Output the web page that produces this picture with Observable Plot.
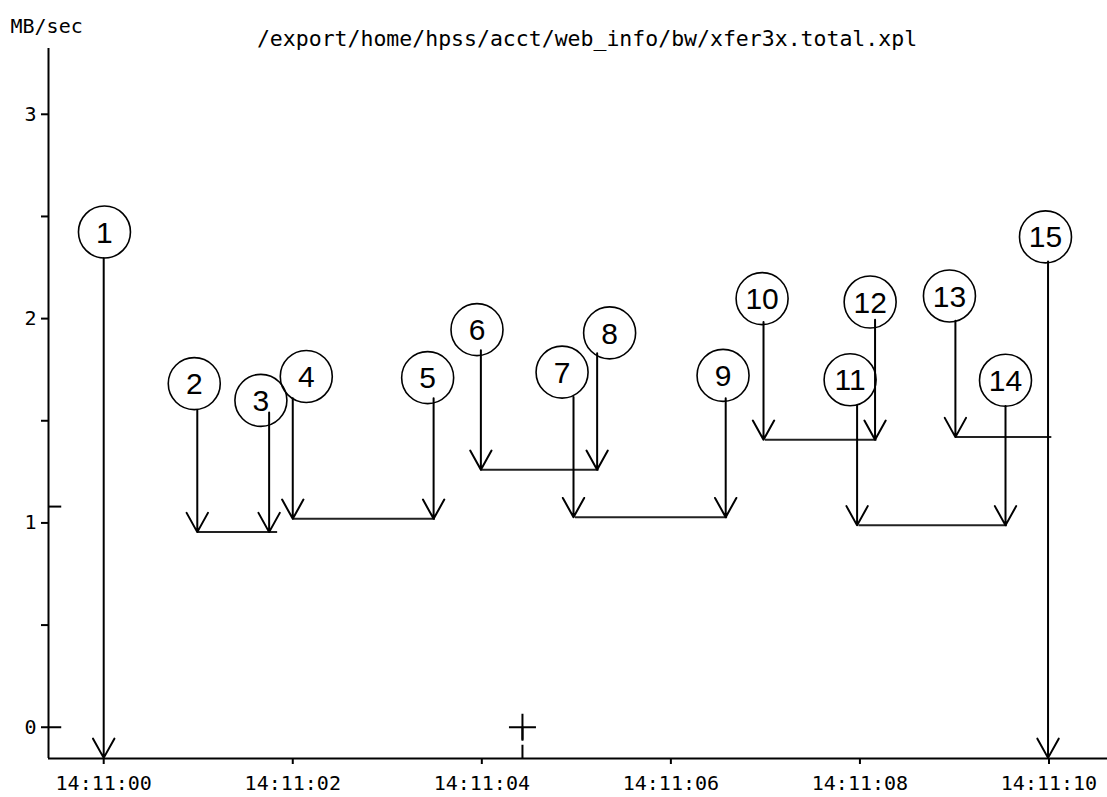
<!DOCTYPE html>
<html>
<head>
<meta charset="utf-8">
<script src="https://cdn.jsdelivr.net/npm/d3@7"></script>
<script src="https://cdn.jsdelivr.net/npm/@observablehq/plot@0.6"></script>
<style>
  html, body { margin: 0; padding: 0; background: #fff; }
  svg { display: block; }
</style>
</head>
<body>
<div id="chart"></div>
<script>
// ---- data (seconds after 14:11:00, values in MB/sec) ----
const titleText = "/export/home/hpss/acct/web_info/bw/xfer3x.total.xpl";
const yUnit = "MB/sec";
const labels = ["1","2","3","4","5","6","7","8","9","10","11","12","13","14","15"];
const arrowTime = [0.00, 0.99, 1.75, 2.00, 3.49, 3.99, 4.97, 5.22, 6.58, 6.98, 7.97, 8.16, 9.01, 9.54, 9.99];
const arrowTop  = [2.295, 1.551, 1.541, 1.61, 1.61, 1.845, 1.616, 1.83, 1.61, 1.983, 1.575, 1.995, 1.99, 1.572, 2.28];
const arrowTip  = [-0.15, 0.955, 0.955, 1.02, 1.02, 1.26, 1.028, 1.26, 1.028, 1.407, 0.988, 1.407, 1.42, 0.988, -0.15];
const circleTime  = [0.008, 0.958, 1.663, 2.143, 3.427, 3.949, 4.849, 5.352, 6.552, 6.965, 7.896, 8.108, 8.947, 9.54, 9.963];
const circleValue = [2.424, 1.682, 1.60, 1.717, 1.711, 1.946, 1.738, 1.93, 1.722, 2.098, 1.701, 2.081, 2.111, 1.698, 2.40];
const segStart = [0.99, 2.00, 3.99, 4.99, 7.00, 7.99, 9.01];
const segEnd   = [1.84, 3.51, 5.24, 6.60, 8.18, 9.56, 10.03];
const segValue = [0.955, 1.02, 1.26, 1.028, 1.407, 0.988, 1.42];
const xTickSeconds = [0, 2, 4, 6, 8, 10];
const yTicks = [0, 0.5, 1, 1.5, 2, 2.5, 3];
const yMarkers = [1.08, 0];
const crossTime = [4.43];
const crossValue = [0];
const xDomainSec = [-0.584, 10.619];
const yDomain = [-0.153, 3.322];

// ---- build ----
const base = Date.UTC(2000, 0, 1, 14, 11, 0);
const toDate = s => new Date(base + s * 1000);
const arrows = labels.map((l, i) => ({t: toDate(arrowTime[i]), top: arrowTop[i], tip: arrowTip[i]}));
const circles = labels.map((l, i) => ({label: l, t: toDate(circleTime[i]), v: circleValue[i]}));
const segs = segStart.map((s, i) => ({t1: toDate(s), t2: toDate(segEnd[i]), v: segValue[i]}));
const cross = crossTime.map((t, i) => ({t: toDate(t), v: crossValue[i]}));
const xmin = toDate(xDomainSec[0]);
const markerEnd = toDate(xDomainSec[0] + 0.14);

const plusSymbol = {
  draw(context, size) {
    const r = Math.sqrt(size / Math.PI);
    context.moveTo(-r, 0); context.lineTo(r, 0);
    context.moveTo(0, -r); context.lineTo(0, r);
  }
};

const mono = "DejaVu Sans Mono, monospace";

const chart = Plot.plot({
  width: 1107,
  height: 797,
  marginLeft: 48,
  marginRight: 0,
  marginTop: 48,
  marginBottom: 39,
  style: {background: "#fff", color: "#000", fontFamily: mono},
  x: {type: "utc", domain: [xmin, toDate(xDomainSec[1])], axis: null},
  y: {domain: yDomain, axis: null},
  marks: [
    Plot.axisX({
      ticks: xTickSeconds.map(toDate),
      tickFormat: d3.utcFormat("%H:%M:%S"),
      tickSize: 6, tickPadding: 11, fontSize: 20, label: null, strokeWidth: 2
    }),
    Plot.axisY({
      ticks: yTicks,
      tickFormat: d => (d % 1 === 0 ? String(d) : ""),
      tickSize: 7, tickPadding: 5, fontSize: 20, label: null, strokeWidth: 2
    }),
    Plot.ruleY(yMarkers, {y: d => d, x1: () => xmin, x2: () => markerEnd, stroke: "#000", strokeWidth: 2}),
    Plot.ruleX([xmin], {stroke: "#000", strokeWidth: 2}),
    Plot.ruleY([yDomain[0]], {stroke: "#000", strokeWidth: 2}),
    Plot.ruleY(segs, {y: "v", x1: "t1", x2: "t2", stroke: "#222", strokeWidth: 2}),
    Plot.arrow(arrows, {x1: "t", y1: "top", x2: "t", y2: "tip", stroke: "#000", strokeWidth: 2, headLength: 16.5, headAngle: 58}),
    Plot.dot(circles, {x: "t", y: "v", r: 26, fill: "none", stroke: "#000", strokeWidth: 1.6}),
    Plot.text(circles, {x: "t", y: "v", text: "label", fontSize: 30, fontFamily: "Liberation Sans, Arial, sans-serif", fill: "#000", dy: 1}),
    Plot.dot(cross, {x: "t", y: "v", symbol: plusSymbol, r: 13.5, fill: "none", stroke: "#000", strokeWidth: 2}),
    Plot.ruleX(cross, {x: "t", y1: "v", y2: () => yDomain[0], stroke: "#000", strokeWidth: 2, strokeDasharray: "13,5,20"}),
    Plot.text([titleText], {frameAnchor: "top", dx: 9, dy: -18, fontSize: 21.5, fontFamily: mono, fill: "#000"}),
    Plot.text([yUnit], {frameAnchor: "top-left", textAnchor: "start", dx: -38, dy: -30, fontSize: 20, fontFamily: mono, fill: "#000"})
  ]
});
document.getElementById("chart").appendChild(chart);
</script>
</body>
</html>
